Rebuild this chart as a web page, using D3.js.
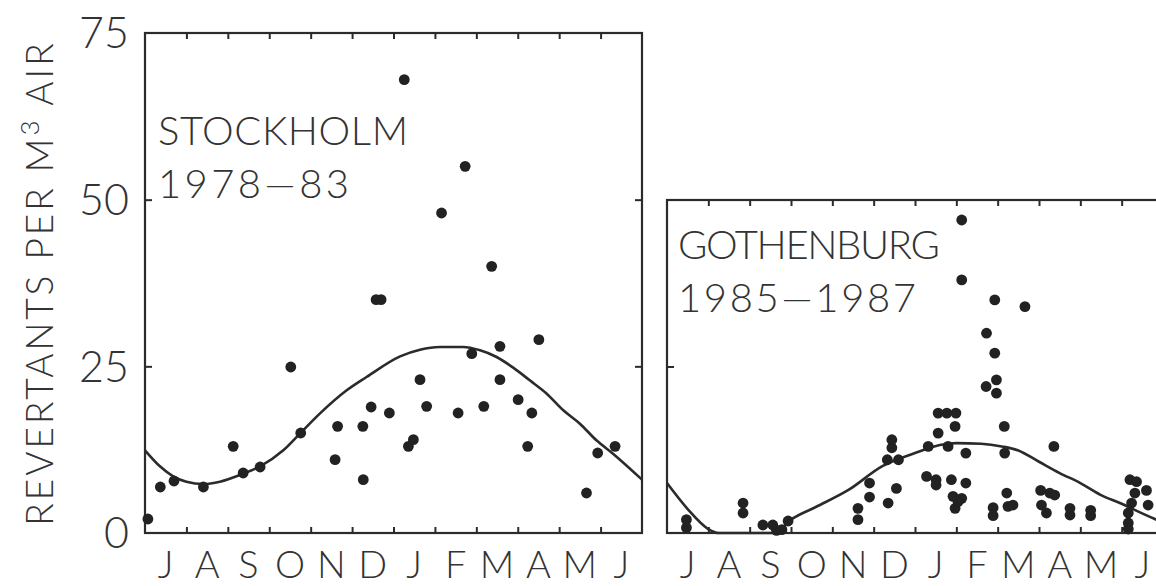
<!DOCTYPE html>
<html>
<head>
<meta charset="utf-8">
<script src="https://cdn.jsdelivr.net/npm/d3@7"></script>
<style>
  body { margin: 0; background: #fff; }
  svg { display: block; }
  text { font-family: Lato, "Liberation Sans", sans-serif; font-weight: 300; fill: #333; }
</style>
</head>
<body>
<svg id="chart" width="1156" height="586"></svg>
<script>
// Month initials, July through June
const months = ["J", "A", "S", "O", "N", "D", "J", "F", "M", "A", "M", "J"];
const yTickLabels = [0, 25, 50, 75];

// Stockholm 1978-83: [month offset from 1 July, revertants per m3]
const stockholmObs = [
  [0.07, 2.1], [0.37, 6.9], [0.70, 7.8], [1.41, 6.9], [2.13, 13.0], [2.37, 9.0],
  [2.78, 9.9], [3.52, 24.9], [3.76, 15.0], [4.59, 11.0], [4.65, 16.0], [5.26, 16.0],
  [5.27, 8.0], [5.46, 18.9], [5.58, 35.0], [5.70, 35.0], [5.90, 18.0], [6.26, 68.0],
  [6.36, 13.0], [6.48, 14.0], [6.64, 23.0], [6.80, 19.0], [7.16, 48.0], [7.56, 18.0],
  [7.73, 55.0], [7.89, 26.9], [8.18, 19.0], [8.37, 40.0], [8.57, 28.0], [8.57, 23.0],
  [9.01, 20.0], [9.24, 13.0], [9.34, 18.0], [9.51, 29.0], [10.66, 6.0], [10.93, 12.0],
  [11.35, 13.0]
];

// Stockholm seasonal fit
const stockholmFit = [
  [0, 12.4], [0.36, 10.0], [0.68, 8.5], [1.0, 7.7], [1.41, 7.35], [1.81, 7.7],
  [2.37, 8.9], [2.78, 10.0], [3.34, 12.4], [3.74, 14.9], [4.22, 17.9], [4.87, 21.4],
  [5.35, 23.4], [6.16, 26.5], [6.64, 27.5], [7.12, 27.9], [7.68, 27.9], [8.09, 27.4],
  [8.49, 26.4], [8.89, 24.8], [9.29, 22.9], [9.70, 20.9], [10.1, 18.4], [10.5, 16.4],
  [10.9, 13.9], [11.3, 11.9], [12.0, 8.0]
];

// Gothenburg 1985-1987
const gothenburgObs = [
  [0.47, 2.0], [0.47, 0.8], [1.84, 4.5], [1.84, 3.0],
  [2.32, 1.2], [2.56, 1.2], [2.65, 0.4], [2.78, 0.5], [2.93, 1.8],
  [4.62, 3.7], [4.62, 2.0], [4.90, 7.5], [4.90, 5.4], [5.35, 4.5], [5.55, 6.7],
  [5.44, 14.0], [5.44, 12.8], [5.33, 11.0], [5.60, 11.0],
  [6.32, 13.0], [6.56, 15.0], [6.56, 18.0], [6.77, 18.0], [6.99, 18.0], [6.97, 16.0],
  [6.80, 13.0], [7.23, 12.0],
  [6.28, 8.5], [6.51, 8.0], [6.51, 7.2], [6.88, 8.0], [7.23, 7.5], [6.92, 5.5],
  [7.13, 5.2], [6.97, 3.7], [7.04, 4.7],
  [7.13, 47.0], [7.13, 38.0], [7.93, 35.0], [8.66, 34.0], [7.73, 30.0], [7.93, 27.0],
  [7.97, 23.0], [7.72, 22.0], [7.97, 21.0], [8.16, 16.0], [8.17, 12.0],
  [7.89, 3.8], [7.89, 2.6], [8.22, 6.0], [8.25, 4.0], [8.37, 4.2],
  [9.36, 13.0], [9.04, 6.4], [9.26, 6.0], [9.38, 5.7], [9.06, 4.2], [9.18, 3.0],
  [9.75, 3.7], [9.75, 2.7], [10.25, 3.4], [10.25, 2.6],
  [11.20, 8.0], [11.36, 7.7], [11.60, 6.4], [11.32, 6.0], [11.24, 4.5], [11.16, 3.0],
  [11.16, 1.5], [11.16, 0.6], [11.64, 4.2]
];

// Gothenburg seasonal fit (held at zero through late summer)
const gothenburgFit = [
  [0, 7.5], [0.5, 3.6], [1.0, 0.6], [1.25, 0], [2.6, 0], [3.0, 2.0], [3.6, 3.9],
  [4.4, 6.5], [5.2, 10.0], [6.0, 12.0], [6.6, 13.2], [7.0, 13.5], [7.6, 13.4],
  [8.1, 13.0], [8.5, 12.4], [9.0, 10.7], [9.5, 9.0], [10.0, 7.5], [10.5, 5.7],
  [11.0, 4.4], [11.3, 3.5], [11.84, 2.0], [12.0, 1.6]
];

const ink = "#2b2b2b";
const svg = d3.select("#chart");

const panels = [
  {
    obs: stockholmObs, fit: stockholmFit, yMax: 75,
    x: d3.scaleLinear().domain([0, 12]).range([145, 642]),
    y: d3.scaleLinear().domain([0, 75]).range([533, 33]),
    title: ["STOCKHOLM", "1978—83"], titleLen: [250, 191],
    titleX: 158, titleY: 145, yLabels: true
  },
  {
    obs: gothenburgObs, fit: gothenburgFit, yMax: 50,
    x: d3.scaleLinear().domain([0, 12]).range([667, 1163]),
    y: d3.scaleLinear().domain([0, 50]).range([533, 200]),
    title: ["GOTHENBURG", "1985—1987"], titleLen: [262, 238],
    titleX: 678, titleY: 259, yLabels: false
  }
];

panels.forEach(p => {
  const g = svg.append("g");
  const [x0, x1] = p.x.range();
  const [yb, yt] = p.y.range();

  // month boundary ticks, pointing inward on bottom and top
  const inner = d3.range(1, 12);
  g.append("g").attr("transform", `translate(0,${yb})`)
    .call(d3.axisBottom(p.x).tickValues(inner).tickSize(-6).tickFormat(""))
    .call(a => a.select(".domain").remove());
  g.append("g").attr("transform", `translate(0,${yt})`)
    .call(d3.axisTop(p.x).tickValues(inner).tickSize(-6).tickFormat(""))
    .call(a => a.select(".domain").remove());

  // value ticks inward on the left and right edges
  const vt = [25, 50].filter(v => v < p.yMax);
  g.append("g").attr("transform", `translate(${x0},0)`)
    .call(d3.axisLeft(p.y).tickValues(vt).tickSize(-7).tickFormat(""))
    .call(a => a.select(".domain").remove());
  g.append("g").attr("transform", `translate(${x1},0)`)
    .call(d3.axisRight(p.y).tickValues(vt).tickSize(-7).tickFormat(""))
    .call(a => a.select(".domain").remove());
  g.selectAll(".tick line").attr("stroke", ink).attr("stroke-width", 2);

  // frame
  g.append("rect")
    .attr("x", x0).attr("y", yt).attr("width", x1 - x0).attr("height", yb - yt)
    .attr("fill", "none").attr("stroke", ink).attr("stroke-width", 2.2);

  // month initials centred in each month
  g.selectAll("text.month").data(months).join("text")
    .attr("class", "month")
    .attr("x", (d, i) => p.x(i + 0.5)).attr("y", 578)
    .attr("text-anchor", "middle").attr("font-size", 38)
    .text(d => d);

  // value labels
  if (p.yLabels) {
    g.selectAll("text.ylab").data(yTickLabels).join("text")
      .attr("class", "ylab")
      .attr("x", x0 - 16).attr("y", d => p.y(d)).attr("dy", "0.36em")
      .attr("text-anchor", "end").attr("font-size", 43)
      .text(d => d);
  }

  // fitted seasonal curve
  g.append("path").datum(p.fit)
    .attr("fill", "none").attr("stroke", ink).attr("stroke-width", 2.6)
    .attr("d", d3.line().x(d => p.x(d[0])).y(d => p.y(d[1])).curve(d3.curveMonotoneX));

  // observations
  g.selectAll("circle").data(p.obs).join("circle")
    .attr("cx", d => p.x(d[0])).attr("cy", d => p.y(d[1])).attr("r", 5.4)
    .attr("fill", "#222");

  // site label
  p.title.forEach((t, i) => {
    g.append("text").attr("x", p.titleX).attr("y", p.titleY + i * 53)
      .attr("font-size", 40)
      .attr("textLength", p.titleLen[i]).attr("lengthAdjust", "spacing")
      .text(t);
  });
});

// vertical axis title
const yTitle = svg.append("text")
  .attr("transform", "translate(53,283) rotate(-90)")
  .attr("text-anchor", "middle").attr("font-size", 37)
  .attr("letter-spacing", 3);
yTitle.append("tspan").text("REVERTANTS PER M");
yTitle.append("tspan").attr("font-size", 26).attr("dy", -14).text("3");
yTitle.append("tspan").attr("dy", 14).text(" AIR");
</script>
</body>
</html>
